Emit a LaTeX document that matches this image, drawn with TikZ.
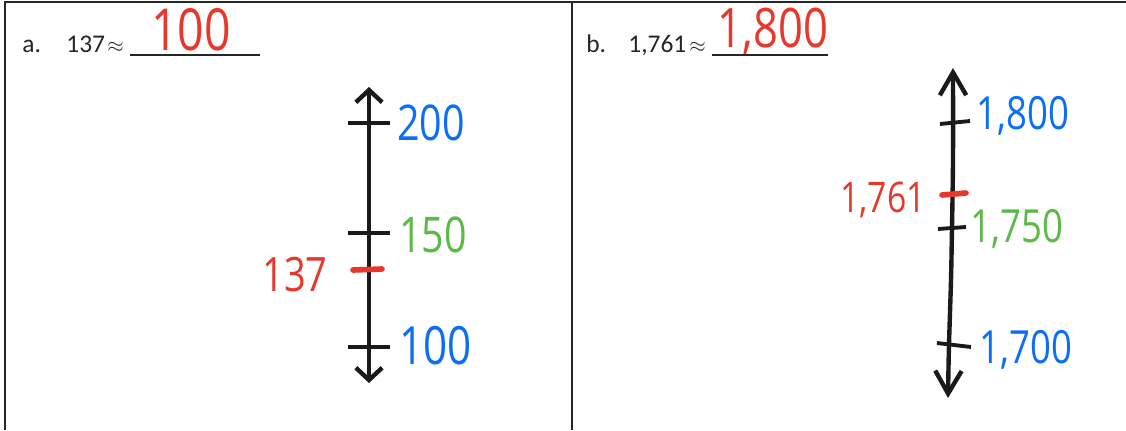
\documentclass[tikz,border=0pt]{standalone}
\usepackage{graphicx}
\usepackage{fontspec}
\setmainfont{Carlito}
\newfontfamily\handfont{Open Sans}
\usetikzlibrary{arrows.meta}
\definecolor{inkred}{HTML}{E8382B}
\definecolor{inkblue}{HTML}{0B6EF6}
\definecolor{inkgreen}{HTML}{5BB946}
\definecolor{inkblack}{HTML}{1A1A1A}
\definecolor{printgray}{HTML}{262626}
\newcommand{\hand}[2]{{\handfont\fontsize{#1}{#1}\selectfont\scalebox{0.8}[1]{#2}}}
\tikzset{
	frameline/.style={line width=1.2pt, draw=printgray},
	numline/.style={line width=2.5pt, draw=inkblack, line cap=round},
	tickmark/.style={line width=2.2pt, draw=inkblack},
	guessmark/.style={line width=3.2pt, draw=inkred, line cap=round},
	printed/.style={anchor=base west, inner sep=0pt, text=printgray, font=\fontsize{14.5}{17}\selectfont},
	approxsign/.style={anchor=base west, inner sep=0pt, text=printgray, font=\fontsize{12}{14}\selectfont},
	handlabel/.style={anchor=west, inner sep=0pt},
	handanswer/.style={anchor=base, inner sep=0pt, text=inkred}
}
\begin{document}
\begin{tikzpicture}[x=0.02cm,y=-0.02cm]
		\useasboundingbox (0,0) rectangle (1126,430);
		\draw[frameline] (5,430) -- (5,2) -- (1126,2);
		\draw[frameline] (572,2) -- (572,430);
		
		% part a
		\node[printed] (aletter) at (22,52) {a.};
		\node[printed] (aquestion) at (66,52) {137};
		\node[approxsign] (aapprox) at (107,52) {$\approx$};
		\draw[line width=0.6pt, printgray] (130,55) -- (260,55);
		\node[handanswer] (aanswer) at (191,50) {\hand{33}{100}};
		
		\coordinate (atop) at (369,87);
		\coordinate (abottom) at (369,383);
		\draw[numline, {Straight Barb[length=7pt,width=15pt]}-{Straight Barb[length=7pt,width=15pt]}] (abottom) -- (atop);
		\draw[tickmark] (348,123) -- (390,123);
		\draw[tickmark] (348,233) -- (390,233);
		\draw[tickmark] (348,347) -- (390,347);
		\draw[guessmark] (353,270) -- (382,269);
		\node[handlabel, text=inkblue] (atwohundred) at (397,123) {\hand{28}{200}};
		\node[handlabel, text=inkgreen] (aonefifty) at (399,235) {\hand{28}{150}};
		\node[handlabel, text=inkblue] (aonehundred) at (399,346) {\hand{30}{100}};
		\node[handlabel, anchor=east, text=inkred] (aguess) at (328,275) {\hand{27}{137}};
		
		% part b
		\node[printed] (bletter) at (586,52) {b.};
		\node[printed] (bquestion) at (628,52) {1,761};
		\node[approxsign] (bapprox) at (689,52) {$\approx$};
		\draw[line width=0.6pt, printgray] (712,55) -- (828,55);
		\node[handanswer] (banswer) at (773,47) {\hand{31}{1,800}};
		
		\coordinate (btop) at (953,68);
		\coordinate (bbottom) at (948,398);
		\draw[numline, {Straight Barb[length=13pt,width=15pt]}-{Straight Barb[length=13pt,width=15pt]}] plot [smooth] coordinates {(bbottom) (949,345) (951,280) (952,228) (953,160) (btop)};
		\draw[tickmark] (940,124) -- (970,121);
		\draw[tickmark] (938,229) -- (966,227);
		\draw[tickmark] (937,343) -- (971,347);
		\draw[guessmark] (942,195) -- (966,193);
		\node[handlabel, text=inkblue] (beighteen) at (976,116) {\hand{26}{1,800}};
		\node[handlabel, text=inkgreen] (bseventeenfifty) at (970,229) {\hand{26}{1,750}};
		\node[handlabel, text=inkblue] (bseventeen) at (979,350) {\hand{26}{1,700}};
		\node[handlabel, anchor=east, text=inkred] (bguess) at (926,200) {\hand{24}{1,761}};
\end{tikzpicture}
\end{document}
